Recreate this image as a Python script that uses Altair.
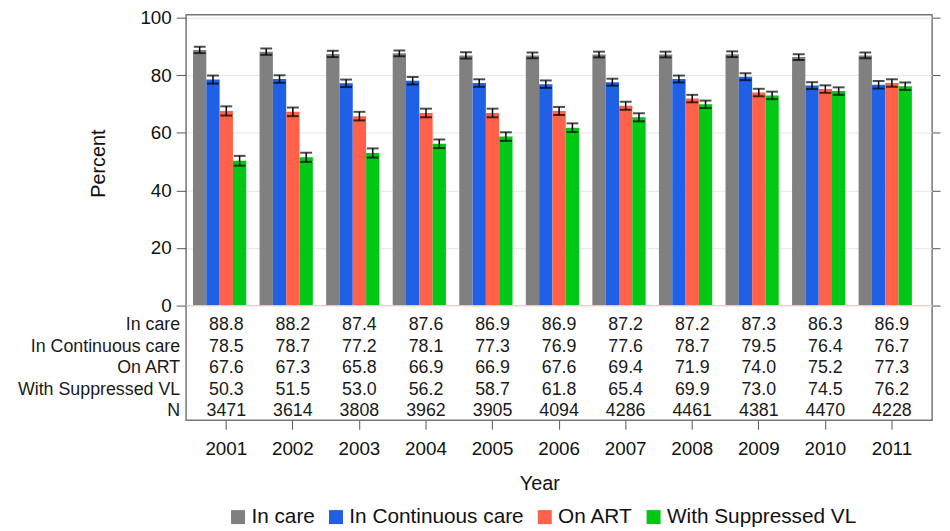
import altair as alt
import pandas as pd

years = [2001, 2002, 2003, 2004, 2005, 2006, 2007, 2008, 2009, 2010, 2011]
series = ["In care", "In Continuous care", "On ART", "With Suppressed VL"]
colors = ["#808080", "#1f60e6", "#ff6248", "#00c814"]

in_care = [88.8, 88.2, 87.4, 87.6, 86.9, 86.9, 87.2, 87.2, 87.3, 86.3, 86.9]
in_cont = [78.5, 78.7, 77.2, 78.1, 77.3, 76.9, 77.6, 78.7, 79.5, 76.4, 76.7]
on_art = [67.6, 67.3, 65.8, 66.9, 66.9, 67.6, 69.4, 71.9, 74.0, 75.2, 77.3]
supp_vl = [50.3, 51.5, 53.0, 56.2, 58.7, 61.8, 65.4, 69.9, 73.0, 74.5, 76.2]
n_counts = [3471, 3614, 3808, 3962, 3905, 4094, 4286, 4461, 4381, 4470, 4228]

# estimated 95% CI half-widths
err_care = [1.1, 1.1, 1.1, 1.0, 1.1, 1.0, 1.0, 1.0, 1.0, 1.0, 1.0]
err_cont = [1.4, 1.3, 1.3, 1.3, 1.3, 1.3, 1.2, 1.2, 1.2, 1.2, 1.3]
err_art = [1.6, 1.5, 1.5, 1.5, 1.5, 1.4, 1.4, 1.3, 1.3, 1.3, 1.3]
err_vl = [1.7, 1.6, 1.6, 1.5, 1.5, 1.5, 1.4, 1.3, 1.3, 1.3, 1.3]

row_labels = ["In care", "In Continuous care", "On ART", "With Suppressed VL", "N"]
y_ticks = [0, 20, 40, 60, 80, 100]

FONT = "Liberation Sans"

values = [in_care, in_cont, on_art, supp_vl]
errs = [err_care, err_cont, err_art, err_vl]
rows = []
for s, vals, es in zip(series, values, errs):
    for yr, v, e in zip(years, vals, es):
        rows.append({"year": yr, "series": s, "value": v, "lo": v - e, "hi": v + e})
df = pd.DataFrame(rows)

trows = []
for i, yr in enumerate(years):
    for lab, vals in zip(row_labels[:4], values):
        trows.append({"year": yr, "row": lab, "txt": f"{vals[i]:.1f}"})
    trows.append({"year": yr, "row": "N", "txt": str(n_counts[i])})
tdf = pd.DataFrame(trows)
ldf = pd.DataFrame({"row": row_labels})
zdf = pd.DataFrame({"base": [0]})

ydom = [-39.86, 101.03]
xscale = alt.Scale(paddingInner=0, paddingOuter=0.104)
xaxis = alt.Axis(
    title="Year", labelAngle=0, labelFontSize=19, tickSize=9, tickColor="#555555",
    labelPadding=11, domain=False, titleFontSize=20, titleFontWeight="normal",
    titleX=357, titleY=64, titleBaseline="middle", titleAlign="center",
    labelColor="#111111", titleColor="#111111",
)
X = alt.X("year:O", scale=xscale, axis=xaxis)
XO = alt.XOffset("series:N", scale=alt.Scale(domain=series + [" "], paddingInner=0, paddingOuter=0))
yscale = alt.Scale(domain=ydom, nice=False, zero=False)

bars = alt.Chart(df).mark_bar().encode(
    x=X,
    xOffset=XO,
    y=alt.Y(
        "value:Q", scale=yscale,
        axis=alt.Axis(
            values=y_ticks, labelFontSize=19, tickSize=10, tickColor="#555555",
            labelPadding=5, domain=False, grid=True, gridColor="#e6e6e6",
            title="Percent", titleFontSize=20, titleFontWeight="normal",
            titleX=-88, titleY=150, titleAngle=270, titleBaseline="middle",
            titleAlign="center", labelColor="#111111", titleColor="#111111",
        ),
    ),
    y2=alt.datum(0),
    color=alt.Color(
        "series:N", scale=alt.Scale(domain=series, range=colors),
        legend=alt.Legend(
            orient="none", legendX=42, legendY=497, direction="horizontal", columns=4,
            title=None, symbolType="square", symbolSize=200, labelFontSize=21,
            columnPadding=10, labelOffset=3, symbolStrokeWidth=0, symbolOpacity=1,
            labelColor="#111111", padding=0, labelLimit=0,
        ),
    ),
)
err = alt.Chart(df).mark_rule(color="black", strokeWidth=1.5).encode(
    x=X, xOffset=XO, y=alt.Y("lo:Q"), y2="hi:Q"
)
cap_lo = alt.Chart(df).mark_tick(color="black", thickness=2, size=12).encode(
    x=X, xOffset=XO, y=alt.Y("lo:Q")
)
cap_hi = alt.Chart(df).mark_tick(color="black", thickness=2, size=12).encode(
    x=X, xOffset=XO, y=alt.Y("hi:Q")
)
main = alt.layer(bars, err, cap_lo, cap_hi)

yrow = alt.Y("row:N", scale=alt.Scale(type="point", domain=row_labels, range=[314, 401], padding=0), axis=None)
nums = alt.Chart(tdf).mark_text(fontSize=18, baseline="middle", align="center", color="#1a1a1a").encode(
    x=X, y=yrow, text="txt:N"
)
labs = alt.Chart(ldf).mark_text(fontSize=18, baseline="middle", align="right", color="#1a1a1a").encode(
    x=alt.value(-6), y=yrow, text="row:N"
)
table = alt.layer(labs, nums)

right = alt.Chart(zdf).mark_rule(color="#eccaca", strokeWidth=1).encode(
    y=alt.Y(
        "base:Q", scale=yscale,
        axis=alt.Axis(orient="right", values=y_ticks, labels=False, tickSize=8,
                      tickColor="#555555", grid=False, domain=False, title=None),
    )
)

chart = (
    alt.layer(main, table, right)
    .resolve_scale(y="independent")
    .properties(
        width=754, height=410,
        autosize=alt.AutoSizeParams(type="none"),
        padding={"left": 180, "top": 4, "right": 10, "bottom": 105},
    )
    .configure(font=FONT)
    .configure_view(stroke="#777777", strokeWidth=1.5)
)

chart.save("out.html", embed_options={"renderer": "svg", "actions": False})
